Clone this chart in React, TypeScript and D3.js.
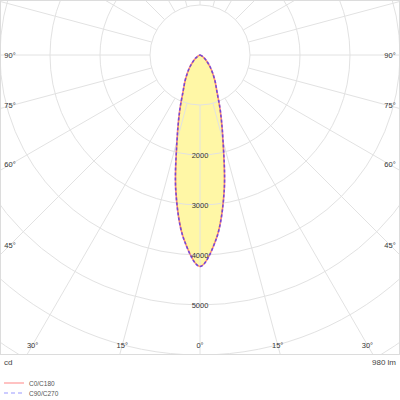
import React, { useEffect, useRef } from 'react';
import * as d3 from 'd3';

// luminous intensity (cd) per gamma angle, both C planes identical
const gammaAngles = [0, 5, 10, 15, 20, 25, 30, 35, 40, 45, 50, 55, 60, 65, 70, 75, 80, 85, 90];
const c0c180 = [4230, 3700, 2780, 1780, 1190, 800, 600, 440, 320, 220, 150, 100, 60, 35, 20, 10, 5, 2, 0];
const c90c270 = [4230, 3700, 2780, 1780, 1190, 800, 600, 440, 320, 220, 150, 100, 60, 35, 20, 10, 5, 2, 0];

const ringValues = [1000, 2000, 3000, 4000, 5000, 6000, 7000, 8000];
const ringLabels = [2000, 3000, 4000, 5000];
const angleLabels = [0, 15, 30, 45, 60, 75, 90];
const unitLabel = 'cd';
const fluxLabel = '980 lm';
const legendItems = ['C0/C180', 'C90/C270'];

const W = 400;
const H = 400;
const BOX_BOTTOM = 354;
const FONT = '"Liberation Sans", Arial, sans-serif';

export default function App() {
  const svgRef = useRef<SVGSVGElement>(null);

  useEffect(() => {
    if (!svgRef.current) return;
    const svg = d3.select(svgRef.current);
    svg.selectAll('*').remove();

    const cx = 200;
    const cy = 55;
    const r = d3.scaleLinear().domain([0, 1000]).range([0, 50]);

    svg.append('defs').append('clipPath').attr('id', 'box')
      .append('rect').attr('x', 1).attr('y', 1).attr('width', W - 2).attr('height', BOX_BOTTOM - 1);

    const plot = svg.append('g').attr('clip-path', 'url(#box)');
    const g = plot.append('g').attr('transform', `translate(${cx},${cy})`);

    // curve fill first
    const mirror = (vals: number[]) => {
      const pts: { theta: number; v: number }[] = [];
      gammaAngles.forEach((a, i) => pts.push({ theta: (a * Math.PI) / 180, v: vals[i] }));
      for (let i = gammaAngles.length - 2; i > 0; i--) {
        pts.push({ theta: (-gammaAngles[i] * Math.PI) / 180, v: vals[i] });
      }
      // order: 0 -> 90 right, then back left 85 -> 5, closed
      const right = pts.slice(0, gammaAngles.length).reverse();
      const left = pts.slice(gammaAngles.length).reverse();
      return [...right, ...left.reverse().map(p => p)].length ? buildLoop(vals) : pts;
    };

    function buildLoop(vals: number[]) {
      const pts: { theta: number; v: number }[] = [];
      for (let i = gammaAngles.length - 1; i >= 0; i--) {
        pts.push({ theta: (gammaAngles[i] * Math.PI) / 180, v: vals[i] });
      }
      for (let i = 1; i < gammaAngles.length - 1; i++) {
        pts.push({ theta: (-gammaAngles[i] * Math.PI) / 180, v: vals[i] });
      }
      return pts;
    }

    const radial = d3.lineRadial<{ theta: number; v: number }>()
      .angle(d => Math.PI - d.theta)
      .radius(d => r(d.v))
      .curve(d3.curveCatmullRomClosed);

    g.append('path')
      .attr('d', radial(mirror(c0c180)) as string)
      .attr('fill', 'rgba(255,238,70,0.48)')
      .attr('stroke', 'none');

    // grid
    ringValues.forEach(v => {
      g.append('circle').attr('r', r(v)).attr('fill', 'none')
        .attr('stroke', '#e2e2e2').attr('stroke-width', 1);
    });
    d3.range(0, 360, 15).forEach(a => {
      const t = (a * Math.PI) / 180;
      g.append('line')
        .attr('x1', r(1000) * Math.sin(t)).attr('y1', r(1000) * Math.cos(t))
        .attr('x2', 600 * Math.sin(t)).attr('y2', 600 * Math.cos(t))
        .attr('stroke', '#e2e2e2').attr('stroke-width', 1);
    });

    // curves
    g.append('path')
      .attr('d', radial(mirror(c0c180)) as string)
      .attr('fill', 'none')
      .attr('stroke', 'rgba(255,40,20,0.5)')
      .attr('stroke-width', 1.6);
    g.append('path')
      .attr('d', radial(mirror(c90c270)) as string)
      .attr('fill', 'none')
      .attr('stroke', 'rgba(60,40,255,0.7)')
      .attr('stroke-width', 1.6)
      .attr('stroke-dasharray', '3,2');

    // ring labels
    ringLabels.forEach(v => {
      g.append('text')
        .attr('x', 0).attr('y', r(v))
        .attr('text-anchor', 'middle').attr('dominant-baseline', 'central')
        .attr('font-family', FONT).attr('font-size', 7.5).attr('fill', '#333')
        .text(v);
    });

    // angle labels where rays meet inner frame
    const xMin = 10;
    const xMax = 390;
    const yMax = 345;
    angleLabels.forEach(a => {
      [1, -1].forEach(side => {
        if (a === 0 && side === -1) return;
        const t = (a * Math.PI) / 180;
        const dx = side * Math.sin(t);
        const dy = Math.cos(t);
        const tSide = dx > 0 ? (xMax - cx) / dx : dx < 0 ? (xMin - cx) / dx : Infinity;
        const tBottom = dy > 1e-6 ? (yMax - cy) / dy : Infinity;
        const k = Math.min(tSide, tBottom);
        svg.append('text')
          .attr('x', cx + k * dx).attr('y', cy + k * dy)
          .attr('text-anchor', 'middle').attr('dominant-baseline', 'central')
          .attr('font-family', FONT).attr('font-size', 7.5).attr('fill', '#333')
          .text(`${a}°`);
      });
    });

    // frame
    svg.append('rect').attr('x', 0.5).attr('y', 0.5).attr('width', W - 1).attr('height', BOX_BOTTOM)
      .attr('fill', 'none').attr('stroke', '#dcdcdc').attr('stroke-width', 1);

    svg.append('text').attr('x', 4).attr('y', 362).attr('dominant-baseline', 'central')
      .attr('font-family', FONT).attr('font-size', 8).attr('fill', '#444').text(unitLabel);
    svg.append('text').attr('x', 396).attr('y', 362).attr('text-anchor', 'end').attr('dominant-baseline', 'central')
      .attr('font-family', FONT).attr('font-size', 8).attr('fill', '#444').text(fluxLabel);

    // legend
    const lg = svg.append('g');
    legendItems.forEach((name, i) => {
      const y = 383 + i * 10;
      lg.append('line').attr('x1', 4).attr('x2', 24).attr('y1', y).attr('y2', y)
        .attr('stroke', i === 0 ? '#ff9a9a' : '#9a9aff').attr('stroke-width', 1.2)
        .attr('stroke-dasharray', i === 0 ? null : '4,3');
      lg.append('text').attr('x', 29).attr('y', y).attr('dominant-baseline', 'central')
        .attr('font-family', FONT).attr('font-size', 6.5).attr('fill', '#555').text(name);
    });
  }, []);

  return (
    <svg
      ref={svgRef}
      width={W}
      height={H}
      style={{ position: 'absolute', left: 0, top: 0, background: '#fff' }}
    />
  );
}
